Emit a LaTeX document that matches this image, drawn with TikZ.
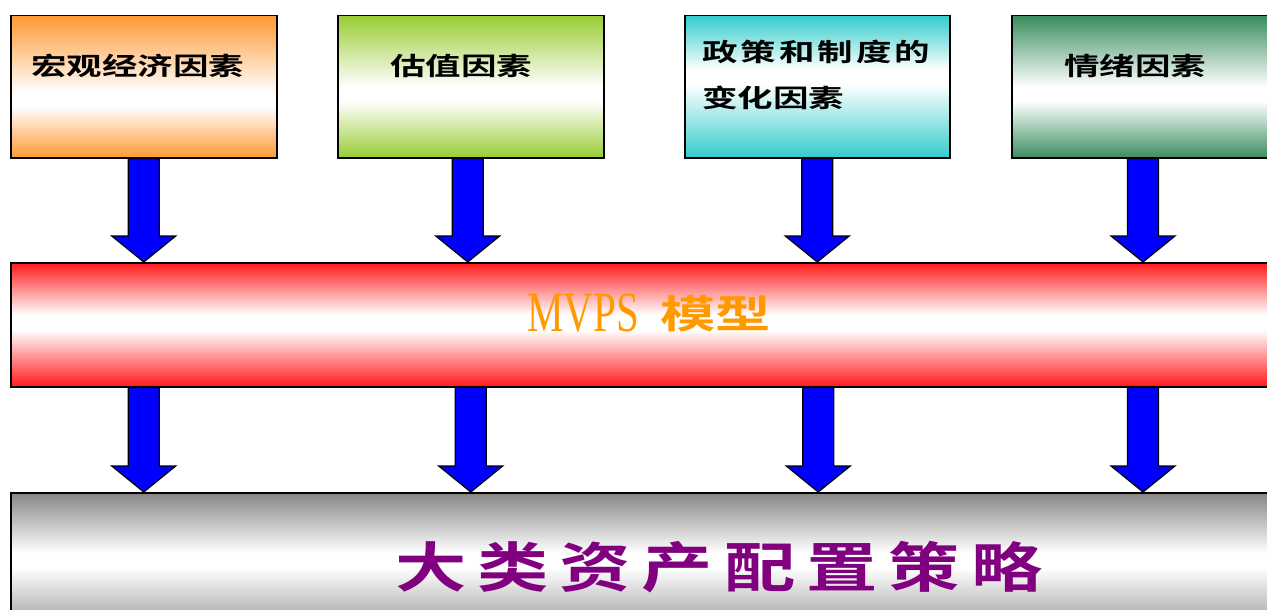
\documentclass[tikz,border=0pt]{standalone}
\usepackage{fontspec}
\setmainfont{Liberation Serif}
\newfontfamily\cjk{Noto Sans CJK SC Bold}[FakeStretch=1.42]
\newfontfamily\cjkbig{Noto Sans CJK SC Bold}[FakeStretch=1.32]
\newfontfamily\mvpsfont{Liberation Serif}[FakeStretch=0.72]
\usetikzlibrary{calc}
\definecolor{cOrange}{HTML}{FF9933}
\definecolor{cGreen}{HTML}{99CC33}
\definecolor{cCyan}{HTML}{33CCCC}
\definecolor{cSea}{HTML}{3A8D5E}
\definecolor{cRed}{HTML}{FF1A1A}
\definecolor{cGray}{HTML}{858585}
\definecolor{cPurple}{HTML}{800080}
\definecolor{cMV}{HTML}{FF9900}
\definecolor{cBlue}{HTML}{0000FF}
\pgfdeclareverticalshading{shOrange}{100bp}{color(0bp)=(cOrange); color(25bp)=(cOrange); color(43bp)=(white); color(48bp)=(white); color(75bp)=(cOrange); color(100bp)=(cOrange)}
\pgfdeclareverticalshading{shGreen}{100bp}{color(0bp)=(cGreen); color(25bp)=(cGreen); color(45bp)=(white); color(50bp)=(white); color(75bp)=(cGreen); color(100bp)=(cGreen)}
\pgfdeclareverticalshading{shCyan}{100bp}{color(0bp)=(cCyan); color(25bp)=(cCyan); color(51bp)=(white); color(56bp)=(white); color(75bp)=(cCyan); color(100bp)=(cCyan)}
\pgfdeclareverticalshading{shSea}{100bp}{color(0bp)=(cSea); color(25bp)=(cSea); color(45bp)=(white); color(50bp)=(white); color(75bp)=(cSea); color(100bp)=(cSea)}
\pgfdeclareverticalshading{shRed}{100bp}{color(0bp)=(cRed); color(25bp)=(cRed); color(48bp)=(white); color(54bp)=(white); color(75bp)=(cRed); color(100bp)=(cRed)}
\pgfdeclareverticalshading{shGray}{100bp}{color(0bp)=(cGray); color(25bp)=(cGray); color(50bp)=(white); color(55bp)=(white); color(75bp)=(cGray); color(100bp)=(cGray)}
\newcommand\myarrow[2]{\draw[barrow] let \p1=(#1), \p2=(#2) in
  (\x1-15.5pt,\y1) -- (\x1+15.5pt,\y1) -- (\x1+15.5pt,\y2+26pt) -- (\x1+32pt,\y2+26pt)
  -- (\x1,\y2) -- (\x1-32pt,\y2+26pt) -- (\x1-15.5pt,\y2+26pt) -- cycle;}
\begin{document}
\begin{tikzpicture}[x=1pt,y=-1pt,
  box/.style={draw=black, line width=1.5pt, rectangle, inner sep=0pt, anchor=north west, minimum height=142},
  bar/.style={draw=black, line width=1.5pt, rectangle, inner sep=0pt, anchor=north west, minimum width=1300},
  barrow/.style={fill=cBlue, draw=black, line width=1.2pt, line join=miter},
  lbl/.style={inner sep=0pt, font=\cjk\fontsize{25}{30}\selectfont, text=black}]
\useasboundingbox (0,0) rectangle (1267,610);
\clip (0,0) rectangle (1267,610);
% boxes
\node[box, shading=shOrange, minimum width=266] (b1) at (10,15) {};
\node[box, shading=shGreen, minimum width=266] (b2) at (337,15) {};
\node[box, shading=shCyan, minimum width=265] (b3) at (684,15) {};
\node[box, shading=shSea, minimum width=300] (b4) at (1011,15) {};
\node[bar, shading=shRed, minimum height=124] (mid) at (10,262) {};
\node[bar, shading=shGray, minimum height=150] (bot) at (10,492) {};
% arrow coordinates
\coordinate (a1s) at (b1.south);
\coordinate (a2s) at ($(b2.south)+(-3,0)$);
\coordinate (a3s) at (b3.south);
\coordinate (a4s) at ($(b4.south west)+(132,0)$);
\foreach \i in {1,2,3,4}{\coordinate (a\i e) at (a\i s |- mid.north);}
\coordinate (c1s) at (a1s |- mid.south);
\coordinate (c2s) at (b2.south |- mid.south);
\coordinate (c3s) at ($(b3.south |- mid.south)+(1,0)$);
\coordinate (c4s) at (a4s |- mid.south);
\foreach \i in {1,2,3,4}{\coordinate (c\i e) at (c\i s |- bot.north);}
\foreach \i in {1,2,3,4}{\myarrow{a\i s}{a\i e}\myarrow{c\i s}{c\i e}}
% labels
\node[lbl] (t1) at (137.5,66) {宏观经济因素};
\node[lbl] (t2) at (461,66) {估值因素};
\node[lbl, anchor=west] (t3a) at (702,52) {政\hspace{3pt}策\hspace{3pt}和\hspace{3pt}制\hspace{3pt}度\hspace{3pt}的};
\node[lbl, anchor=west] (t3b) at (702,98) {变化因素};
\node[lbl] (t4) at (1135,66) {情绪因素};
\node[inner sep=0pt, anchor=west, text=cMV, font=\mvpsfont\fontsize{57}{60}\selectfont] (mv) at (527,313) {MVPS};
\node[inner sep=0pt, anchor=west, text=cMV, font=\cjk\fontsize{39}{42}\selectfont] (mx) at (660,314) {模型};
\node[inner sep=0pt, anchor=west, text=cPurple, font=\cjkbig\fontsize{54}{60}\selectfont] (bt) at (395,567) {大\hspace{11pt}类\hspace{11pt}资\hspace{11pt}产\hspace{11pt}配\hspace{11pt}置\hspace{11pt}策\hspace{11pt}略};
\end{tikzpicture}
\end{document}
